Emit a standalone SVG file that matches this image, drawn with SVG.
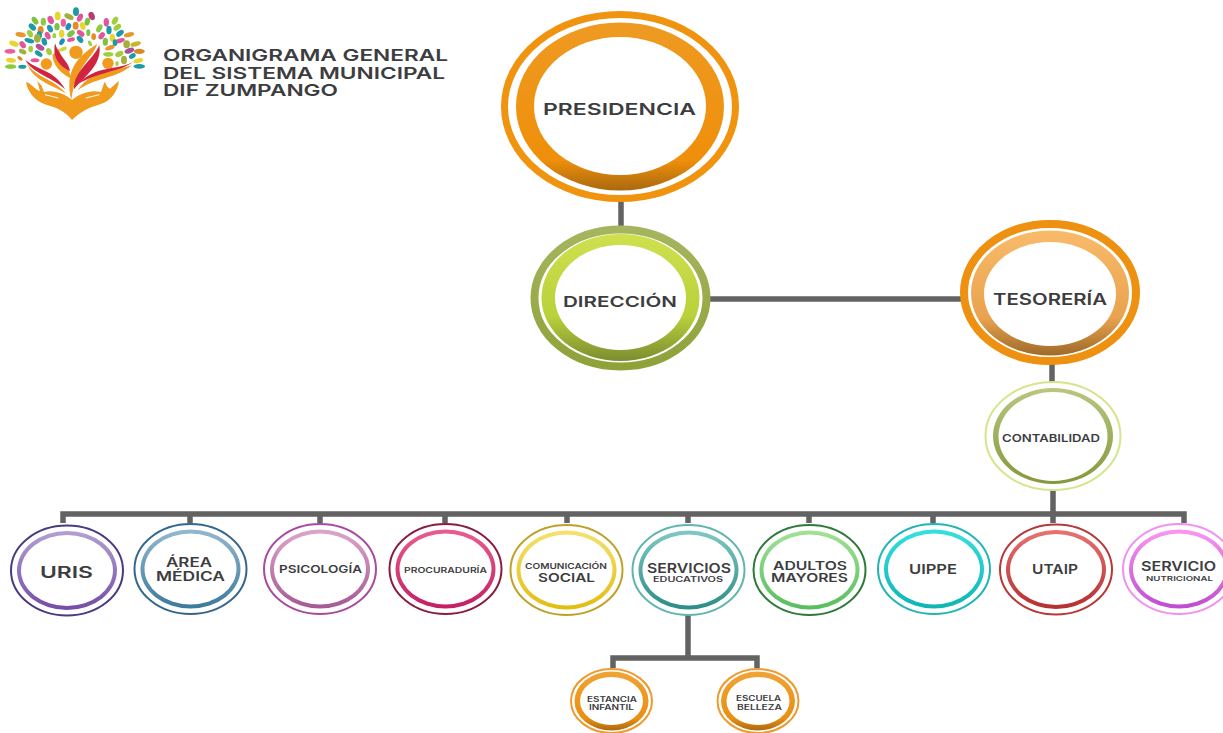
<svg xmlns="http://www.w3.org/2000/svg" width="1223" height="733" viewBox="0 0 1223 733">
<style>
text{font-family:"Inter","Liberation Sans",sans-serif;font-weight:600;fill:#3d3d3f;text-anchor:start}
.c{fill:none;stroke:#636363;stroke-width:5.5}
.o{fill:#fff;stroke-width:2}
.h{fill:#fff}
</style>
<defs>
<linearGradient id="gP" x1="0" y1="0" x2="0" y2="1"><stop offset="0" stop-color="#ee9a22"/><stop offset=".82" stop-color="#ef8f0a"/><stop offset="1" stop-color="#a9690f"/></linearGradient>
<linearGradient id="gD" x1="0" y1="0" x2="0" y2="1"><stop offset="0" stop-color="#cfe04f"/><stop offset=".65" stop-color="#b9d13a"/><stop offset="1" stop-color="#7c8c30"/></linearGradient>
<linearGradient id="gDo" x1="0" y1="0" x2="0" y2="1"><stop offset="0" stop-color="#a5b55f"/><stop offset="1" stop-color="#8fa238"/></linearGradient>
<linearGradient id="gT" x1="0" y1="0" x2="0" y2="1"><stop offset="0" stop-color="#f8bb6a"/><stop offset=".7" stop-color="#e9a24e"/><stop offset="1" stop-color="#9e6a28"/></linearGradient>
<linearGradient id="gC" x1="0" y1="0" x2="0" y2="1"><stop offset="0" stop-color="#b9c77f"/><stop offset="1" stop-color="#84983c"/></linearGradient>
<linearGradient id="g1" x1="0" y1="0" x2="0" y2="1"><stop offset="0" stop-color="#b3a0d2"/><stop offset="1" stop-color="#744ca6"/></linearGradient>
<linearGradient id="g2" x1="0" y1="0" x2="0" y2="1"><stop offset="0" stop-color="#94b8cf"/><stop offset="1" stop-color="#3b7a9c"/></linearGradient>
<linearGradient id="g3" x1="0" y1="0" x2="0" y2="1"><stop offset="0" stop-color="#dca6cc"/><stop offset="1" stop-color="#a45a94"/></linearGradient>
<linearGradient id="g4" x1="0" y1="0" x2="0" y2="1"><stop offset="0" stop-color="#ea5c90"/><stop offset="1" stop-color="#c41f63"/></linearGradient>
<linearGradient id="g5" x1="0" y1="0" x2="0" y2="1"><stop offset="0" stop-color="#f5e16e"/><stop offset="1" stop-color="#e2bd10"/></linearGradient>
<linearGradient id="g6" x1="0" y1="0" x2="0" y2="1"><stop offset="0" stop-color="#7fc9c3"/><stop offset="1" stop-color="#2b8d88"/></linearGradient>
<linearGradient id="g7" x1="0" y1="0" x2="0" y2="1"><stop offset="0" stop-color="#a0e294"/><stop offset="1" stop-color="#58bd5e"/></linearGradient>
<linearGradient id="g8" x1="0" y1="0" x2="0" y2="1"><stop offset="0" stop-color="#35dfdf"/><stop offset="1" stop-color="#0fb5b5"/></linearGradient>
<linearGradient id="g9" x1="0" y1="0" x2="0" y2="1"><stop offset="0" stop-color="#e87272"/><stop offset="1" stop-color="#b52f2f"/></linearGradient>
<linearGradient id="g10" x1="0" y1="0" x2="0" y2="1"><stop offset="0" stop-color="#fb96f2"/><stop offset="1" stop-color="#bd4ecf"/></linearGradient>
<linearGradient id="gE" x1="0" y1="0" x2="0" y2="1"><stop offset="0" stop-color="#f0a335"/><stop offset=".8" stop-color="#ea8f10"/><stop offset="1" stop-color="#a9690f"/></linearGradient>
</defs>

<g id="connectors">
<path class="c" d="M621 200V228M710 299H962M1052 362V383M1053 488V514M63 523V514H1184V523M190 514V523M320 514V523M445 514V523M567 514V523M688 514V523M809 514V523M933 514V523M1053 514V523"/>
<path class="c" d="M688 613V658M613 668V658H757V668"/>
</g>

<g id="logo">
<g transform="scale(.3333)">
<g id="leaves">
<ellipse cx="228" cy="35" rx="9" ry="13" fill="#1c9aa8"/><ellipse cx="275" cy="48" rx="9" ry="13" transform="rotate(-20 275 48)" fill="#b83a78"/><ellipse cx="173" cy="48" rx="9" ry="13" fill="#e8d52e"/><ellipse cx="207" cy="50" rx="15" ry="8" transform="rotate(25 207 50)" fill="#a2b03c"/><ellipse cx="240" cy="53" rx="8" ry="13" transform="rotate(25 240 53)" fill="#e2559a"/><ellipse cx="152" cy="60" rx="9" ry="13" transform="rotate(-20 152 60)" fill="#e2559a"/><ellipse cx="130" cy="65" rx="8" ry="12" fill="#8ccb40"/><ellipse cx="105" cy="62" rx="8" ry="13" transform="rotate(-35 105 62)" fill="#7cc243"/><ellipse cx="262" cy="65" rx="8" ry="12" transform="rotate(15 262 65)" fill="#7cc243"/><ellipse cx="227" cy="77" rx="9" ry="12" fill="#e88a2a"/><ellipse cx="190" cy="68" rx="8" ry="12" fill="#ea5fa0"/><ellipse cx="345" cy="62" rx="8" ry="13" transform="rotate(30 345 62)" fill="#9fd03c"/><ellipse cx="319" cy="67" rx="8" ry="13" fill="#e2559a"/><ellipse cx="298" cy="85" rx="8" ry="13" transform="rotate(30 298 85)" fill="#8ccb40"/><ellipse cx="352" cy="82" rx="8" ry="13" transform="rotate(50 352 82)" fill="#9fd03c"/><ellipse cx="327" cy="90" rx="8" ry="13" fill="#1c9aa8"/><ellipse cx="97" cy="81" rx="8" ry="13" transform="rotate(-45 97 81)" fill="#1c9aa8"/><ellipse cx="171" cy="80" rx="8" ry="11" fill="#7cc243"/><ellipse cx="122" cy="90" rx="9" ry="12" fill="#e88a2a"/><ellipse cx="150" cy="86" rx="8" ry="12" transform="rotate(-25 150 86)" fill="#1c9aa8"/><ellipse cx="205" cy="80" rx="8" ry="11" transform="rotate(25 205 80)" fill="#1c8fc0"/><ellipse cx="248" cy="78" rx="8" ry="12" transform="rotate(-20 248 78)" fill="#e8d52e"/><ellipse cx="62" cy="104" rx="16" ry="7" transform="rotate(10 62 104)" fill="#e8962e"/><ellipse cx="90" cy="101" rx="8" ry="12" transform="rotate(-30 90 101)" fill="#9fd03c"/><ellipse cx="118" cy="105" rx="8" ry="12" fill="#1c9aa8"/><ellipse cx="143" cy="107" rx="8" ry="12" transform="rotate(-25 143 107)" fill="#e2559a"/><ellipse cx="163" cy="107" rx="6" ry="8" fill="#9fd03c"/><ellipse cx="185" cy="101" rx="8" ry="12" fill="#e8d52e"/><ellipse cx="213" cy="101" rx="8" ry="13" transform="rotate(50 213 101)" fill="#7cc243"/><ellipse cx="242" cy="100" rx="8" ry="13" transform="rotate(-50 242 100)" fill="#e2559a"/><ellipse cx="265" cy="98" rx="6" ry="10" fill="#7cc243"/><ellipse cx="281" cy="110" rx="7" ry="10" fill="#e88a2a"/><ellipse cx="305" cy="107" rx="8" ry="12" transform="rotate(35 305 107)" fill="#e2559a"/><ellipse cx="360" cy="100" rx="8" ry="13" transform="rotate(50 360 100)" fill="#1c9aa8"/><ellipse cx="387" cy="104" rx="16" ry="7" transform="rotate(-12 387 104)" fill="#e8962e"/><ellipse cx="337" cy="113" rx="8" ry="12" fill="#e8d52e"/><ellipse cx="316" cy="125" rx="8" ry="12" fill="#7cc243"/><ellipse cx="360" cy="122" rx="15" ry="7" transform="rotate(-15 360 122)" fill="#e2559a"/><ellipse cx="42" cy="131" rx="15" ry="8" transform="rotate(20 42 131)" fill="#e8d52e"/><ellipse cx="68" cy="134" rx="8" ry="12" transform="rotate(-35 68 134)" fill="#e2559a"/><ellipse cx="88" cy="122" rx="15" ry="7" transform="rotate(15 88 122)" fill="#1c9aa8"/><ellipse cx="112" cy="115" rx="10" ry="13" fill="#a2b03c"/><ellipse cx="133" cy="125" rx="8" ry="12" transform="rotate(-15 133 125)" fill="#1c9aa8"/><ellipse cx="186" cy="125" rx="7" ry="11" transform="rotate(30 186 125)" fill="#1c8fc0"/><ellipse cx="213" cy="119" rx="12" ry="6" transform="rotate(-15 213 119)" fill="#e2559a"/><ellipse cx="240" cy="118" rx="8" ry="12" transform="rotate(-40 240 118)" fill="#1c9aa8"/><ellipse cx="270" cy="130" rx="5" ry="9" transform="rotate(-30 270 130)" fill="#9fd03c"/><ellipse cx="407" cy="132" rx="16" ry="7" transform="rotate(-15 407 132)" fill="#c9b42e"/><ellipse cx="380" cy="133" rx="10" ry="12" fill="#a2b03c"/><ellipse cx="345" cy="128" rx="7" ry="10" fill="#1c9aa8"/><ellipse cx="120" cy="142" rx="14" ry="8" transform="rotate(30 120 142)" fill="#b8509a"/><ellipse cx="92" cy="147" rx="7" ry="10" fill="#9fd03c"/><ellipse cx="68" cy="155" rx="12" ry="7" transform="rotate(25 68 155)" fill="#a2b03c"/><ellipse cx="30" cy="154" rx="16" ry="7" fill="#ea5fa0"/><ellipse cx="147" cy="155" rx="8" ry="11" transform="rotate(-25 147 155)" fill="#9fd03c"/><ellipse cx="190" cy="147" rx="11" ry="6" transform="rotate(-25 190 147)" fill="#c9d83c"/><ellipse cx="330" cy="143" rx="15" ry="7" transform="rotate(-20 330 143)" fill="#e8962e"/><ellipse cx="325" cy="163" rx="15" ry="7" fill="#9fd03c"/><ellipse cx="358" cy="162" rx="13" ry="8" transform="rotate(-25 358 162)" fill="#9fd03c"/><ellipse cx="388" cy="152" rx="15" ry="8" transform="rotate(-20 388 152)" fill="#a8509a"/><ellipse cx="418" cy="154" rx="16" ry="8" fill="#d98a28"/><ellipse cx="397" cy="168" rx="11" ry="7" transform="rotate(-30 397 168)" fill="#1c9aa8"/><ellipse cx="116" cy="161" rx="13" ry="7" transform="rotate(35 116 161)" fill="#1c9aa8"/><ellipse cx="60" cy="175" rx="9" ry="5" transform="rotate(35 60 175)" fill="#d98a28"/><ellipse cx="33" cy="181" rx="15" ry="7" transform="rotate(8 33 181)" fill="#e8d52e"/><ellipse cx="105" cy="181" rx="13" ry="6" fill="#e2559a"/><ellipse cx="372" cy="180" rx="9" ry="13" fill="#a2b03c"/><ellipse cx="415" cy="182" rx="15" ry="7" transform="rotate(-12 415 182)" fill="#e8d52e"/><ellipse cx="32" cy="200" rx="17" ry="7" fill="#8ccb40"/><ellipse cx="67" cy="200" rx="12" ry="6" fill="#1c9aa8"/><ellipse cx="351" cy="191" rx="5" ry="7" fill="#9fd03c"/><ellipse cx="418" cy="199" rx="17" ry="7" fill="#1c9aa8"/>
</g>
<circle cx="228" cy="157" r="20" fill="#f09a1e"/><circle cx="139" cy="192" r="17" fill="#f09a1e"/><circle cx="324" cy="190" r="17" fill="#f09a1e"/>
<path fill="#f09a1e" d="M178 145C180 180 208 200 214 236C200 228 162 210 157 165Z"/>
<path fill="#f09a1e" d="M292 132C278 175 228 195 214 300C198 232 212 180 292 132Z"/>
<path fill="#f09a1e" d="M396 196C345 238 285 232 232 272C278 205 345 212 396 196Z"/>
<path fill="#f09a1e" d="M80 188C105 232 160 235 198 280C150 252 98 240 80 188Z"/>
<path fill="#cf2340" d="M165 130C156 178 183 200 210 214C208 188 178 170 165 130Z"/>
<path fill="#cf2340" d="M298 135C308 195 250 232 222 268C220 212 280 180 298 135Z"/>
<path fill="#cf2340" d="M76 180C98 220 150 228 196 268C160 208 115 212 76 180Z"/>
<path fill="#cf2340" d="M399 186C360 216 295 215 235 252C285 196 350 212 399 186Z"/>
<path fill="#f09a1e" d="M78 248C88 244 102 266 120 274L112 243L124 256L132 276C158 268 195 280 216 300C238 280 275 268 303 276L314 245L322 260L330 266C340 258 350 248 357 243C354 270 336 302 300 313C270 322 245 332 216 360C195 332 165 322 135 313C105 302 84 276 78 248Z"/>
<path d="M135 284L175 294M298 284L258 294" stroke="#fff" stroke-width="3" fill="none"/>
</g>
<text x="163" y="61" font-size="16.5" textLength="285" lengthAdjust="spacingAndGlyphs">ORGANIGRAMA GENERAL</text>
<text x="163" y="79" font-size="16.5" textLength="282" lengthAdjust="spacingAndGlyphs">DEL SISTEMA MUNICIPAL</text>
<text x="163" y="96" font-size="16.5" textLength="175" lengthAdjust="spacingAndGlyphs">DIF ZUMPANGO</text>
</g>

<g id="presidencia">
<ellipse cx="620" cy="106.5" rx="115.5" ry="92" fill="#fff" stroke="#f0930f" stroke-width="7"/>
<ellipse cx="620" cy="106.5" rx="104" ry="84" fill="url(#gP)"/>
<ellipse class="h" cx="620" cy="106" rx="86" ry="69"/>
<text x="543" y="115" font-size="16.5" textLength="153" lengthAdjust="spacingAndGlyphs">PRESIDENCIA</text>
</g>

<g id="direccion">
<ellipse cx="620.5" cy="298" rx="86" ry="68.5" fill="#fff" stroke="url(#gDo)" stroke-width="8"/>
<ellipse cx="620.5" cy="297.5" rx="79" ry="63.5" fill="url(#gD)"/>
<ellipse class="h" cx="620.5" cy="297.5" rx="65.5" ry="52.5"/>
<text x="563" y="307" font-size="15" textLength="114" lengthAdjust="spacingAndGlyphs">DIRECCIÓN</text>
</g>

<g id="tesoreria">
<ellipse cx="1050" cy="292.5" rx="86" ry="68.5" fill="#fff" stroke="#ee9010" stroke-width="8"/>
<ellipse cx="1050" cy="293" rx="79" ry="62.5" fill="url(#gT)"/>
<ellipse class="h" cx="1050" cy="294" rx="66" ry="52"/>
<text x="993" y="305" font-size="15.5" textLength="114" lengthAdjust="spacingAndGlyphs">TESORERÍA</text>
</g>

<g id="contabilidad">
<ellipse cx="1053" cy="436" rx="67.5" ry="54" fill="#fff" stroke="#d4e58a" stroke-width="2"/>
<ellipse cx="1053" cy="436" rx="60" ry="48" fill="url(#gC)"/>
<ellipse class="h" cx="1053" cy="436.5" rx="54.5" ry="44.5"/>
<text x="1002" y="442" font-size="10.5" textLength="98" lengthAdjust="spacingAndGlyphs">CONTABILIDAD</text>
</g>

<g id="uris">
<ellipse class="o" cx="67" cy="570.5" rx="56" ry="45" stroke="#4a3a80"/><ellipse cx="67" cy="570.5" rx="50" ry="39.5" fill="url(#g1)"/><ellipse class="h" cx="67" cy="570.5" rx="46" ry="35.5"/>
<text x="40" y="578" font-size="16.5" textLength="53" lengthAdjust="spacingAndGlyphs">URIS</text>
</g>
<g id="area-medica">
<ellipse class="o" cx="190.5" cy="569" rx="56" ry="45" stroke="#35678c"/><ellipse cx="190.5" cy="569" rx="50" ry="39.5" fill="url(#g2)"/><ellipse class="h" cx="190.5" cy="569" rx="46" ry="35.5"/>
<text x="166" y="567" font-size="12.5" textLength="46" lengthAdjust="spacingAndGlyphs">ÁREA</text>
<text x="156" y="581" font-size="12.5" textLength="69" lengthAdjust="spacingAndGlyphs">MÉDICA</text>
</g>
<g id="psicologia">
<ellipse class="o" cx="320" cy="569" rx="56" ry="45" stroke="#a84aa0"/><ellipse cx="320" cy="569" rx="50" ry="39.5" fill="url(#g3)"/><ellipse class="h" cx="320" cy="569" rx="46" ry="35.5"/>
<text x="279" y="573" font-size="11" textLength="83" lengthAdjust="spacingAndGlyphs">PSICOLOGÍA</text>
</g>
<g id="procuraduria">
<ellipse class="o" cx="445.5" cy="569" rx="56" ry="45" stroke="#8a1c40"/><ellipse cx="445.5" cy="569" rx="50" ry="39.5" fill="url(#g4)"/><ellipse class="h" cx="445.5" cy="569" rx="46" ry="35.5"/>
<text x="404" y="573" font-size="7.5" textLength="83" lengthAdjust="spacingAndGlyphs">PROCURADURÍA</text>
</g>
<g id="comunicacion-social">
<ellipse class="o" cx="566.5" cy="570" rx="56" ry="45" stroke="#bfa128"/><ellipse cx="566.5" cy="570" rx="50" ry="39.5" fill="url(#g5)"/><ellipse class="h" cx="566.5" cy="570" rx="46" ry="35.5"/>
<text x="525" y="569" font-size="7.5" textLength="82" lengthAdjust="spacingAndGlyphs">COMUNICACIÓN</text>
<text x="538" y="582" font-size="12" textLength="57" lengthAdjust="spacingAndGlyphs">SOCIAL</text>
</g>
<g id="servicios-educativos">
<ellipse class="o" cx="688.5" cy="570" rx="56" ry="45" stroke="#5fb5b0"/><ellipse cx="688.5" cy="570" rx="50" ry="39.5" fill="url(#g6)"/><ellipse class="h" cx="688.5" cy="570" rx="46" ry="35.5"/>
<text x="647" y="573" font-size="13" textLength="84" lengthAdjust="spacingAndGlyphs">SERVICIOS</text>
<text x="653" y="582" font-size="7" textLength="70" lengthAdjust="spacingAndGlyphs">EDUCATIVOS</text>
</g>
<g id="adultos-mayores">
<ellipse class="o" cx="809.5" cy="570" rx="56" ry="45" stroke="#2f7a3a"/><ellipse cx="809.5" cy="570" rx="50" ry="39.5" fill="url(#g7)"/><ellipse class="h" cx="809.5" cy="570" rx="46" ry="35.5"/>
<text x="773" y="569.5" font-size="12" textLength="74" lengthAdjust="spacingAndGlyphs">ADULTOS</text>
<text x="771" y="582" font-size="12" textLength="77" lengthAdjust="spacingAndGlyphs">MAYORES</text>
</g>
<g id="uippe">
<ellipse class="o" cx="934" cy="569" rx="56" ry="45" stroke="#1fb5b5"/><ellipse cx="934" cy="569" rx="50" ry="39.5" fill="url(#g8)"/><ellipse class="h" cx="934" cy="569" rx="46" ry="35.5"/>
<text x="909" y="574" font-size="13" textLength="48" lengthAdjust="spacingAndGlyphs">UIPPE</text>
</g>
<g id="utaip">
<ellipse class="o" cx="1056" cy="569.5" rx="56" ry="45" stroke="#b83838"/><ellipse cx="1056" cy="569.5" rx="50" ry="39.5" fill="url(#g9)"/><ellipse class="h" cx="1056" cy="569.5" rx="46" ry="35.5"/>
<text x="1032" y="574" font-size="13" textLength="46" lengthAdjust="spacingAndGlyphs">UTAIP</text>
</g>
<g id="servicio-nutricional">
<ellipse class="o" cx="1179" cy="569" rx="56" ry="45" stroke="#f090f0"/><ellipse cx="1179" cy="569" rx="50" ry="39.5" fill="url(#g10)"/><ellipse class="h" cx="1179" cy="569" rx="46" ry="35.5"/>
<text x="1141" y="571" font-size="12.5" textLength="75" lengthAdjust="spacingAndGlyphs">SERVICIO</text>
<text x="1146" y="581" font-size="6.5" textLength="67" lengthAdjust="spacingAndGlyphs">NUTRICIONAL</text>
</g>
<g id="estancia-infantil">
<ellipse class="o" cx="611.5" cy="701" rx="40.5" ry="32" stroke="#ee9a30"/><ellipse cx="611.5" cy="701" rx="37" ry="29.5" fill="url(#gE)"/><ellipse class="h" cx="611.5" cy="701" rx="31.5" ry="24"/>
<text x="587" y="701.5" font-size="7" textLength="50" lengthAdjust="spacingAndGlyphs">ESTANCIA</text>
<text x="589" y="710" font-size="7" textLength="45" lengthAdjust="spacingAndGlyphs">INFANTIL</text>
</g>
<g id="escuela-belleza">
<ellipse class="o" cx="758" cy="701" rx="40.5" ry="32" stroke="#ee9a30"/><ellipse cx="758" cy="701" rx="37" ry="29.5" fill="url(#gE)"/><ellipse class="h" cx="758" cy="701" rx="31.5" ry="24"/>
<text x="736" y="701" font-size="7" textLength="45" lengthAdjust="spacingAndGlyphs">ESCUELA</text>
<text x="737" y="710" font-size="7" textLength="45" lengthAdjust="spacingAndGlyphs">BELLEZA</text>
</g>
</svg>
